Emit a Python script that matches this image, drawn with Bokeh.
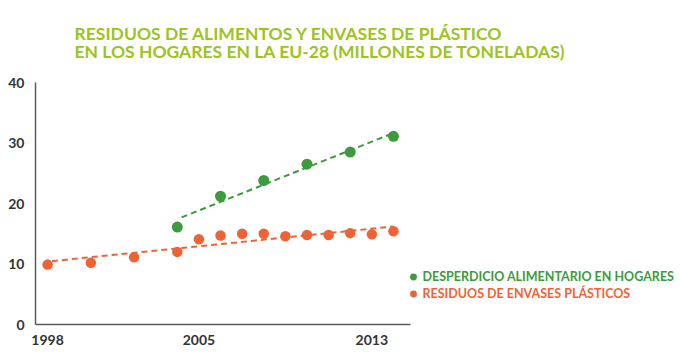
import numpy as np
from bokeh.plotting import figure
from bokeh.models import (Range1d, FixedTicker, Title, Legend, LegendItem)
from bokeh.embed import file_html
from bokeh.resources import INLINE

# ---- data ----
years_plastic = [1998, 2000, 2002, 2004, 2005, 2006, 2007, 2008, 2009, 2010, 2011, 2012, 2013, 2014]
plastic = [9.9, 10.2, 11.1, 12.0, 14.1, 14.7, 15.0, 15.0, 14.6, 14.8, 14.8, 15.1, 14.9, 15.4]
years_food = [2004, 2006, 2008, 2010, 2012, 2014]
food = [16.1, 21.2, 23.8, 26.5, 28.5, 31.1]
x_ticks = [1998, 2005, 2013]
y_ticks = [0, 10, 20, 30, 40]
title_lines = ["RESIDUOS DE ALIMENTOS Y ENVASES DE PLÁSTICO",
               "EN LOS HOGARES EN LA EU-28 (MILLONES DE TONELADAS)"]
label_food = "DESPERDICIO ALIMENTARIO EN HOGARES"
label_plastic = "RESIDUOS DE ENVASES PLÁSTICOS"

GREEN = "#3d9a3e"
ORANGE = "#ee6336"
TITLE_C = "#9cc41c"
AXIS_C = "#5a5a5a"
TEXT_C = "#333333"
FONT = "Lato"

p = figure(width=680, height=363, output_backend="svg", toolbar_location=None,
           x_range=Range1d(1997.44, 2027.28), y_range=Range1d(0, 40),
           min_border_left=35, min_border_right=0, min_border_bottom=39, min_border_top=81)
p.outline_line_color = None
p.xgrid.visible = False
p.ygrid.visible = False

# trend lines (least squares fits of the series)
cf = np.polyfit(years_food, food, 1)
fx = np.array([years_food[0] + 0.2, years_food[-1]])
p.line(fx, np.polyval(cf, fx), line_color=GREEN, line_width=2, line_dash="6 4")
cp = np.polyfit(years_plastic, plastic, 1)
px = np.array([years_plastic[0] + 0.2, years_plastic[-1]])
p.line(px, np.polyval(cp, px), line_color=ORANGE, line_width=2, line_dash="6 4")

rf = p.scatter(years_food, food, size=11, fill_color=GREEN, line_color=None)
rp = p.scatter(years_plastic, plastic, size=10.5, fill_color=ORANGE, line_color=None)

for ax in (p.xaxis[0], p.yaxis[0]):
    ax.axis_line_color = AXIS_C
    ax.axis_line_width = 1.5
    ax.major_tick_line_color = None
    ax.minor_tick_line_color = None
    ax.major_tick_out = 0
    ax.major_tick_in = 0
    ax.minor_tick_out = 0
    ax.minor_tick_in = 0
    ax.major_label_text_font = FONT
    ax.major_label_text_font_style = "bold"
    ax.major_label_text_font_size = "14px"
    ax.major_label_text_color = TEXT_C

p.xaxis.ticker = FixedTicker(ticks=x_ticks)
p.xaxis.bounds = (1997.44, 2014.8)
p.xaxis.major_label_standoff = 10
p.yaxis.ticker = FixedTicker(ticks=y_ticks)
p.yaxis.major_label_standoff = 11

p.add_layout(Title(text="\n".join(title_lines), text_font=FONT, text_font_style="bold",
                   text_font_size="17.5px", text_line_height=0.85, text_color=TITLE_C,
                   align="left", offset=39, standoff=41), "above")

for r, lab, col, loc in ((rf, label_food, GREEN, (368.5, 39.5)), (rp, label_plastic, ORANGE, (368.5, 22.5))):
    lg = Legend(items=[LegendItem(label=lab, renderers=[r])], location=loc,
                label_text_color=col, label_text_font=FONT, label_text_font_style="bold",
                label_text_font_size="12.5px", glyph_width=18, glyph_height=17,
                label_standoff=1, padding=0, spacing=0, margin=0,
                background_fill_alpha=0, border_line_color=None)
    p.add_layout(lg)

open("out.html", "w").write(file_html(p, INLINE))
